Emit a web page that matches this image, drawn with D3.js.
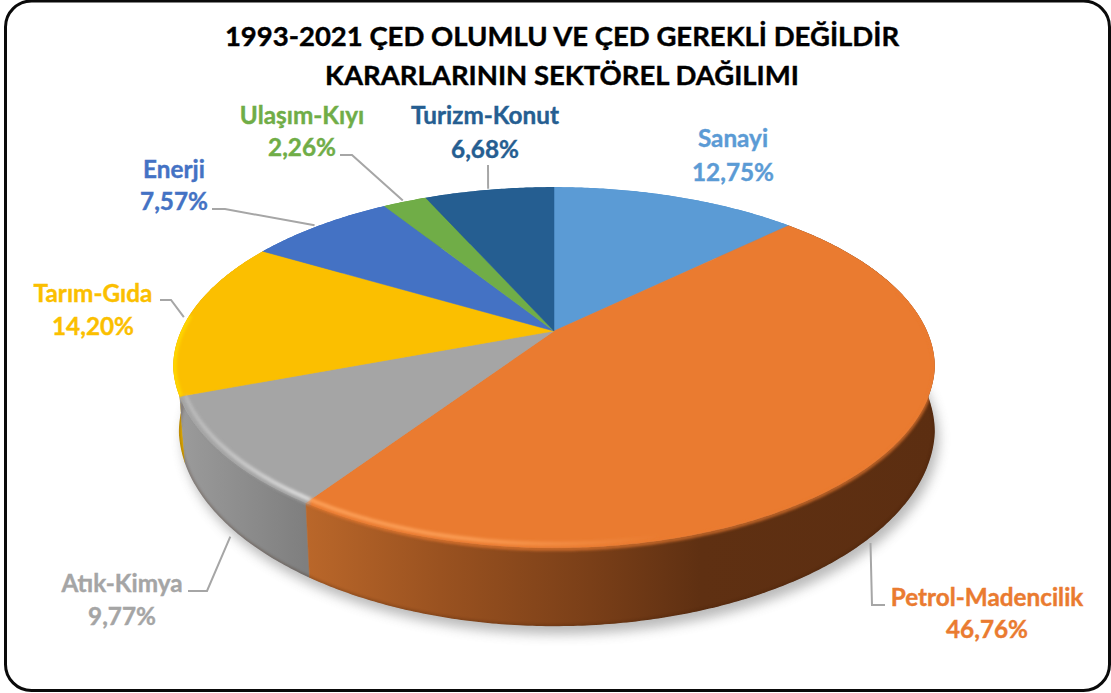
<!DOCTYPE html>
<html><head><meta charset="utf-8">
<script src="https://cdn.jsdelivr.net/npm/d3@7"></script>
<style>html,body{margin:0;padding:0;background:#fff}svg{display:block}text{font-family:Lato,"Open Sans",sans-serif;font-weight:700}</style>
</head><body><svg id="c" width="1111" height="693"></svg>
<script>
const titleLines = ["1993-2021 ÇED OLUMLU VE ÇED GEREKLİ DEĞİLDİR","KARARLARININ SEKTÖREL DAĞILIMI"];
const categories = ["Sanayi","Petrol-Madencilik","Atık-Kimya","Tarım-Gıda","Enerji","Ulaşım-Kıyı","Turizm-Konut"];
const values = [12.75,46.76,9.77,14.20,7.57,2.26,6.68];
const valueLabels = ["12,75%","46,76%","9,77%","14,20%","7,57%","2,26%","6,68%"];
const colors = ["#5b9bd5","#ea7b30","#a5a5a5","#fbbf00","#4472c4","#70ad47","#255e91"];

// layout (label centre x, two baselines) and leader bends, kept apart from the data
const labelPos = [[733,147,181],[987,606,638],[122,592,625],[93,302,335],[174,178,210],[302,124,156],[485,124,158]];
const leaderBends = [null,[[872,605],[885,605]],[[207,591],[188,591]],[[171,300],[160,300]],[[225,209],[212,209]],[[352,155],[340,155]],[[488,165]]];
const leaderNudge = [null,[-8,12],[3,12],[-5,1],[-5,0],[-2,-1],[-1,-1]];

const cx=554, cy=331, R=373, S=173, K=0.2022, D=62.5;
const project=(t,r=1,down=0)=>{
  const u=r*Math.sin(t), v=r*Math.cos(t), w=1+K*v;
  const front=1-0.025*Math.max(0,-v-0.2);      // slight pull-in of the near edge
  const shrink=(down&&u<0)?0.985:1;            // the lower face recedes on the left
  return [cx+R*u/w*front*shrink, cy-S*v/w+down/w];
};
const samples=(a,b)=>{const n=Math.max(2,Math.ceil((b-a)/0.01));return d3.range(n+1).map(i=>a+(b-a)*i/n);};
const line=d3.line();
const svg=d3.select("#c");
const defs=svg.append("defs");
const blur=(id,s)=>defs.append("filter").attr("id",id).attr("x","-20%").attr("y","-20%").attr("width","140%").attr("height","140%")
  .append("feGaussianBlur").attr("stdDeviation",s);
blur("bShadow",6);blur("bEdge",1.4);blur("bHi",1.5);
const grad=(id,stops)=>{const g=defs.append("linearGradient").attr("id",id).attr("gradientUnits","userSpaceOnUse")
  .attr("x1",170).attr("x2",940).attr("y1",0).attr("y2",0);
  stops.forEach(([x,c,o])=>g.append("stop").attr("offset",(x-170)/770).attr("stop-color",c).attr("stop-opacity",o==null?1:o));return `url(#${id})`;};
const wallFill=[ "#5b9bd5",
  grad("wOrange",[[305,"#ba672a"],[440,"#9a5220"],[590,"#7a3f18"],[700,"#5f3012"],[940,"#5c2e11"]]),
  grad("wGray",[[175,"#9c9c9c"],[305,"#7f7f7f"]]),
  "#e0aa00","#4472c4","#70ad47","#255e91"];
const hiOrange=grad("hOrange",[[305,"#ffa45c",.9],[470,"#ffa45c",.8],[660,"#ffa45c",0]]);
const hiGray=grad("hGray",[[175,"#d4d4d4",.35],[300,"#dcdcdc",1]]);

const arcs=d3.pie().sort(null).value(d=>d)(values);
const topPath=a=>line([[cx,cy],...samples(a.startAngle,a.endAngle).map(t=>project(t))])+"Z";
const wallPath=a=>{const s=samples(a.startAngle,a.endAngle);
  return line([...s.map(t=>project(t)),...s.slice().reverse().map(t=>project(t,1,D))])+"Z";};
const full=samples(0,2*Math.PI);

// soft shadow
svg.append("path").attr("d",line(full.map(t=>project(t,1,D)))+"Z").attr("transform","translate(4,8)")
  .attr("fill","#666").attr("opacity",.45).attr("filter","url(#bShadow)");

const clip=defs.append("clipPath").attr("id","solid");
arcs.forEach(a=>{clip.append("path").attr("d",wallPath(a));clip.append("path").attr("d",topPath(a));});
const g=svg.append("g").attr("clip-path","url(#solid)");

// walls, back slices first
[0,6,5,4,3,2,1].forEach(i=>g.append("path").attr("d",wallPath(arcs[i])).attr("fill",wallFill[i]).attr("stroke",wallFill[i]).attr("stroke-width",.5));
// dark lower edge
g.append("path").attr("d",line(samples(Math.PI*0.5,Math.PI*1.5).map(t=>project(t,1,D)))).attr("fill","none")
  .attr("stroke","#3a1c08").attr("stroke-width",2.5).attr("opacity",.35).attr("filter","url(#bEdge)");
// tops
g.selectAll("path.top").data(arcs).join("path").attr("class","top").attr("d",topPath).attr("fill",(d,i)=>colors[i]).attr("stroke",(d,i)=>colors[i]).attr("stroke-width",.5);
// soft edge between top and wall
arcs.forEach((a,i)=>{
  if(i!==1&&i!==2) return;
  const lo=Math.max(a.startAngle,Math.PI*0.42);
  g.append("path").attr("d",line(samples(lo,a.endAngle).map(t=>project(t,1,1)))).attr("fill","none")
   .attr("stroke",colors[i]).attr("stroke-width",3).attr("opacity",.85).attr("filter","url(#bEdge)");
});
// bevel highlights
g.append("path").attr("d",line(samples(arcs[1].startAngle+1.7,arcs[1].endAngle).map(t=>project(t,.985)))).attr("fill","none")
  .attr("stroke",hiOrange).attr("stroke-width",4).attr("filter","url(#bHi)");
g.append("path").attr("d",line(samples(arcs[2].startAngle,arcs[2].endAngle).map(t=>project(t,.985)))).attr("fill","none")
  .attr("stroke",hiGray).attr("stroke-width",4).attr("filter","url(#bHi)");
g.append("path").attr("d",line(samples(arcs[3].startAngle,arcs[3].startAngle+0.45).map(t=>project(t,.997)))).attr("fill","none")
  .attr("stroke","#ffd800").attr("stroke-width",4).attr("filter","url(#bHi)");

// leaders
arcs.forEach((a,i)=>{
  if(!leaderBends[i]) return;
  const p=project((a.startAngle+a.endAngle)/2,1,(i===1||i===2)?D:0);
  const st=[p[0]+leaderNudge[i][0],p[1]+leaderNudge[i][1]];
  svg.append("path").attr("d",line([st,...leaderBends[i]])).attr("fill","none").attr("stroke","#a6a6a6").attr("stroke-width",2);
});
// labels
categories.forEach((c,i)=>{
  const [x,y1,y2]=labelPos[i];
  const t=svg.append("text").attr("text-anchor","middle").attr("fill",colors[i]).attr("stroke",colors[i]).attr("stroke-width",.4).attr("font-size",24.3);
  t.append("tspan").attr("x",x).attr("y",y1).text(c);
  t.append("tspan").attr("x",x).attr("y",y2).text(valueLabels[i]);
});
// title
titleLines.forEach((s,i)=>svg.append("text").attr("x",562).attr("y",[46,85][i]).attr("text-anchor","middle")
  .attr("font-size",27.5).attr("fill","#000").attr("stroke","#000").attr("stroke-width",.4).text(s));
// frame
svg.append("rect").attr("x",5.5).attr("y",1).attr("width",1104).attr("height",689.5).attr("rx",26).attr("ry",26)
  .attr("fill","none").attr("stroke","#0a0a0a").attr("stroke-width",3);
</script></body></html>
